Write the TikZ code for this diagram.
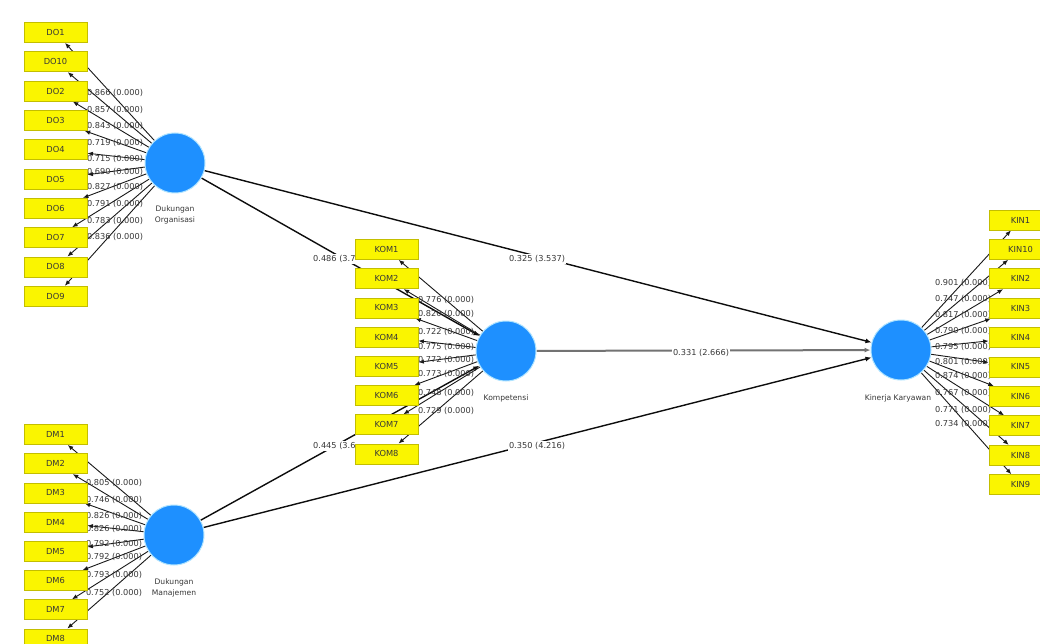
\documentclass[tikz,border=0pt]{standalone}
\usepackage{fontspec}
\setmainfont{DejaVu Sans}
\usetikzlibrary{arrows.meta}
\pgfdeclarelayer{bgl}
\pgfdeclarelayer{lines}
\pgfdeclarelayer{labels}
\pgfsetlayers{bgl,lines,labels,main}
\definecolor{indfill}{RGB}{250,245,0}
\definecolor{indline}{RGB}{195,190,0}
\definecolor{lvfill}{RGB}{30,144,255}
\definecolor{lvedge}{RGB}{175,228,255}
\definecolor{txt}{RGB}{55,55,55}
\begin{document}
\begin{tikzpicture}[x=1pt,y=-1pt,
 ind/.style={rectangle,minimum width=63pt,minimum height=20pt,inner sep=0pt,fill=indfill,draw=indline,line width=0.8pt,font=\fontsize{8.3}{9}\selectfont,text=txt},
 lv/.style={circle,minimum size=60pt,inner sep=0pt,fill=lvfill,draw=lvedge,line width=1pt},
 lvname/.style={font=\fontsize{7.6}{10.5}\selectfont,text=txt,align=center},
 load/.style={draw=black!90,line width=0.9pt,-{Latex[length=5.5pt,width=4.5pt]}},
 pathc/.style={draw=black!95,line width=1.4pt,-{Latex[length=6pt,width=5pt]}},
 lab/.style={font=\fontsize{8.2}{9}\selectfont,text=txt,inner sep=0.5pt},
 plab/.style={lab,fill=white,inner sep=1pt}]

\useasboundingbox (0,0) rectangle (1040,644);
\begin{pgfonlayer}{bgl}
\fill[white] (0,0) rectangle (1040,644);
\end{pgfonlayer}

% indicator boxes
\foreach \n [count=\i from 0] in {DO1,DO10,DO2,DO3,DO4,DO5,DO6,DO7,DO8,DO9}
  \node[ind] (\n) at (55.5,{32.5+\i*29.3}) {\n};
\foreach \n [count=\i from 0] in {DM1,DM2,DM3,DM4,DM5,DM6,DM7,DM8}
  \node[ind] (\n) at (55.5,{434.5+\i*29.2}) {\n};
\foreach \n [count=\i from 0] in {KOM1,KOM2,KOM3,KOM4,KOM5,KOM6,KOM7,KOM8}
  \node[ind] (\n) at (386.5,{249.5+\i*29.2}) {\n};
\foreach \n [count=\i from 0] in {KIN1,KIN10,KIN2,KIN3,KIN4,KIN5,KIN6,KIN7,KIN8,KIN9}
  \node[ind] (\n) at (1020.5,{220+\i*29.4}) {\n};

% latent variables
\node[lv] (DO) at (175,163) {};
\node[lv] (DM) at (174,535) {};
\node[lv] (KOM) at (506,351) {};
\node[lv] (KIN) at (901,350) {};
\node[lvname] (DOn) at (175,215) {Dukungan\\Organisasi};
\node[lvname] (DMn) at (174,588) {Dukungan\\Manajemen};
\node[lvname] (KOMn) at (506,398) {Kompetensi};
\node[lvname] (KINn) at (898,398) {Kinerja Karyawan};

\begin{pgfonlayer}{lines}
\draw[pathc] (DO) -- (KOM);
\draw[pathc] (DO) -- (KIN);
\draw[pathc] (DM) -- (KOM);
\draw[pathc] (DM) -- (KIN);
\draw[pathc,draw=black!55,line width=2pt] (KOM) -- (KIN);
\foreach \n in {DO1,DO10,DO2,DO3,DO4,DO5,DO6,DO7,DO8,DO9} \draw[load] (DO) -- (\n);
\foreach \n in {DM1,DM2,DM3,DM4,DM5,DM6,DM7,DM8} \draw[load] (DM) -- (\n);
\foreach \n in {KOM1,KOM2,KOM3,KOM4,KOM5,KOM6,KOM7,KOM8} \draw[load] (KOM) -- (\n);
\foreach \n in {KIN1,KIN10,KIN2,KIN3,KIN4,KIN5,KIN6,KIN7,KIN8,KIN9} \draw[load] (KIN) -- (\n);
\end{pgfonlayer}

\begin{pgfonlayer}{labels}
\node[plab,anchor=west] (p1) at (312,259) {0.486 (3.7\phantom{00)}};
\node[plab,anchor=west] (p2) at (312,446) {0.445 (3.6\phantom{00)}};
\node[plab] (p3) at (537,259) {0.325 (3.537)};
\node[plab] (p4) at (701,353) {0.331 (2.666)};
\node[plab] (p5) at (537,446) {0.350 (4.216)};
\foreach \v/\y [count=\i] in {0.866/93,0.857/110,0.843/126,0.719/143,0.715/159,0.690/172,0.827/187,0.791/204,0.783/221,0.836/237}
  \node[lab] (ldo\i) at (115,\y) {\v{} (0.000)};
\foreach \v/\y [count=\i] in {0.805/483,0.746/500,0.826/516,0.826/529,0.792/544,0.792/557,0.793/575,0.752/593}
  \node[lab] (ldm\i) at (114,\y) {\v{} (0.000)};
\foreach \v/\y [count=\i] in {0.776/300,0.820/314,0.722/332,0.775/347,0.772/360,0.773/374,0.748/393,0.729/411}
  \node[lab] (lkom\i) at (446,\y) {\v{} (0.000)};
\foreach \v/\y [count=\i] in {0.901/283,0.747/299,0.817/315,0.790/331,0.795/347,0.801/362,0.874/376,0.767/393,0.771/410,0.734/424}
  \node[lab] (lkin\i) at (963,\y) {\v{} (0.000)};
\end{pgfonlayer}
\end{tikzpicture}
\end{document}
